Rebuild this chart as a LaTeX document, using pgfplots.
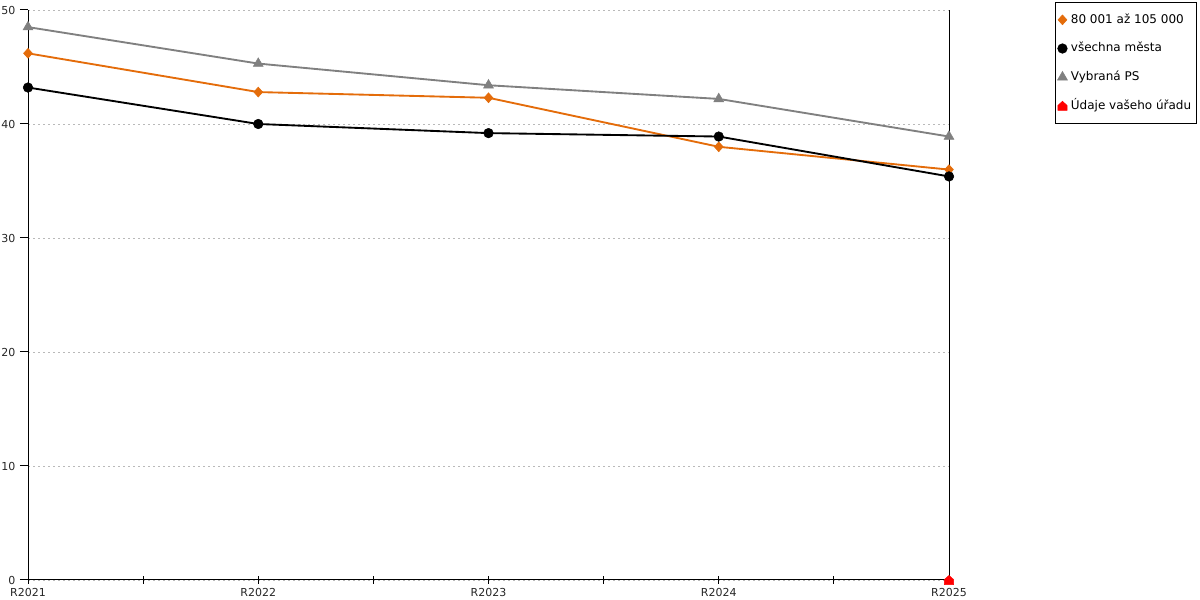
\documentclass[border=0pt]{standalone}
\usepackage{pgfplots}
\pgfplotsset{compat=1.18}
\usepackage{fontspec}
\setmainfont{DejaVu Sans}
\definecolor{cOrange}{HTML}{E46C0A}
\definecolor{cGray}{HTML}{808080}
\definecolor{cRed}{HTML}{FF0000}
\makeatletter
\pgfdeclareplotmark{house}{%
  \pgfpathmoveto{\pgfqpoint{-\pgfplotmarksize}{-\pgfplotmarksize}}%
  \pgfpathlineto{\pgfqpoint{\pgfplotmarksize}{-\pgfplotmarksize}}%
  \pgfpathlineto{\pgfqpoint{\pgfplotmarksize}{0.1\pgfplotmarksize}}%
  \pgfpathlineto{\pgfqpoint{0pt}{\pgfplotmarksize}}%
  \pgfpathlineto{\pgfqpoint{-\pgfplotmarksize}{0.1\pgfplotmarksize}}%
  \pgfpathclose
  \pgfusepathqfillstroke}
\makeatother
\begin{document}
\begin{tikzpicture}
\useasboundingbox (0,0) rectangle (900pt,450pt);
\begin{axis}[
  at={(21pt,15pt)}, anchor=south west,
  scale only axis, width=690.75pt, height=427.5pt,
  xmin=0, xmax=4, ymin=0, ymax=50,
  clip=false,
  axis x line*=bottom, axis y line*=left,
  axis line style={black, line width=0.75pt},
  xtick={0,1,2,3,4},
  xticklabels={R2021,R2022,R2023,R2024,R2025},
  minor x tick num=1,
  ytick={0,10,20,30,40,50},
  xtick align=center, ytick align=outside,
  major tick length=6pt, minor tick length=6pt,
  tick style={black, line width=0.75pt},
  every tick label/.append style={font=\fontsize{8.25pt}{10pt}\selectfont, text=black!85},
  /pgf/number format/assume math mode=true,
  ymajorgrids,
  major grid style={gray!55, line width=0.6pt, dash pattern=on 1.5pt off 2.25pt},
  legend style={at={(rel axis cs:1.1151,1.014)}, anchor=north west, draw=black, line width=0.75pt,
    font=\fontsize{9pt}{11pt}\selectfont, inner xsep=1.5pt, inner ysep=6.5pt, row sep=8.5pt,
    nodes={inner xsep=2.6pt, inner ysep=2pt, text height=7pt, text depth=2pt}},
  legend cell align=left,
  legend image code/.code={\draw[#1, mark repeat=1] plot coordinates {(0pt,0pt)};},
]
\addplot[cOrange, line width=1.4pt, mark=diamond*, mark size=3.7pt, mark options={solid, xscale=1.2, fill=cOrange, draw=cOrange, line width=0.4pt}]
  coordinates {(0,46.2) (1,42.8) (2,42.3) (3,38.0) (4,36.0)};
\addlegendentry{80 001 až 105 000}
\addplot[black, line width=1.4pt, mark=*, mark size=3.6pt, mark options={solid, fill=black, draw=black, line width=0.4pt}]
  coordinates {(0,43.2) (1,40.0) (2,39.2) (3,38.9) (4,35.4)};
\addlegendentry{všechna města}
\addplot[cGray, line width=1.4pt, mark=triangle*, mark size=4.3pt, mark options={solid, fill=cGray, draw=cGray, line width=0.4pt}]
  coordinates {(0,48.5) (1,45.3) (2,43.4) (3,42.2) (4,38.9)};
\addlegendentry{Vybraná PS}
\addplot[cRed, only marks, mark=house, mark size=3.4pt, mark options={solid, fill=cRed, draw=cRed, line width=0.4pt}]
  coordinates {(4,0)};
\addlegendentry{Údaje vašeho úřadu}
\draw[black, line width=0.75pt] (axis cs:4,0) -- (axis cs:4,50);
\end{axis}
\end{tikzpicture}
\end{document}
